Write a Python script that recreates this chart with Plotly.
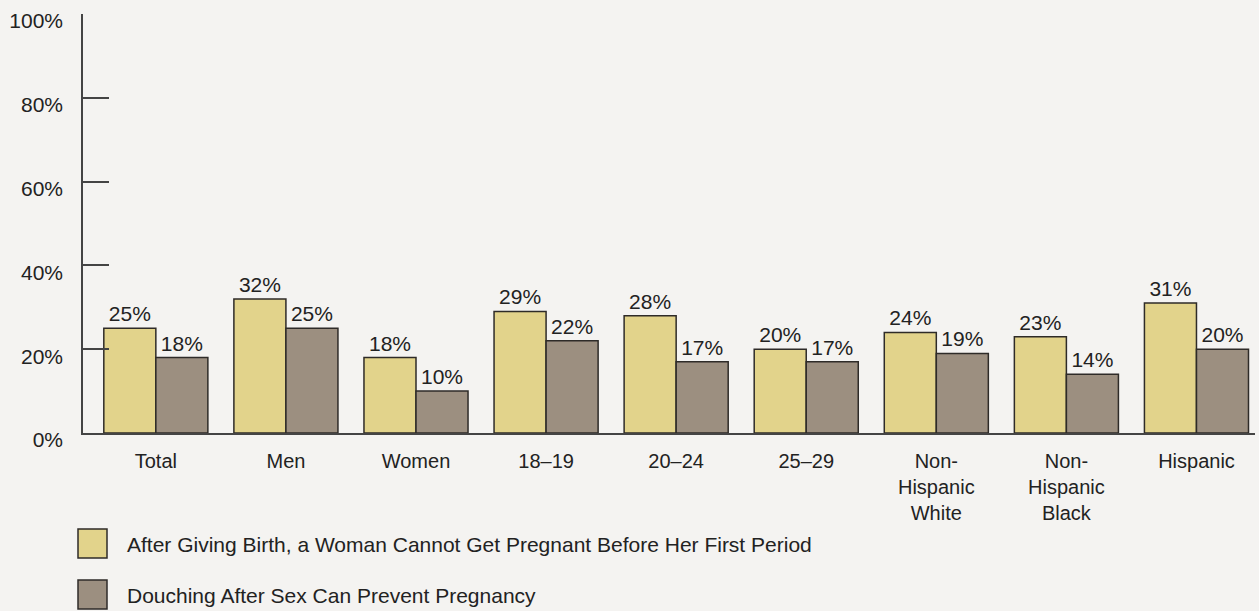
import plotly.graph_objects as go

categories = [
    "Total", "Men", "Women", "18–19", "20–24", "25–29",
    "Non-<br>Hispanic<br>White", "Non-<br>Hispanic<br>Black", "Hispanic",
]
series_names = [
    "After Giving Birth, a Woman Cannot Get Pregnant Before Her First Period",
    "Douching After Sex Can Prevent Pregnancy",
]
after_birth = [25, 32, 18, 29, 28, 20, 24, 23, 31]
douching = [18, 25, 10, 22, 17, 17, 19, 14, 20]
y_ticks = [0, 20, 40, 60, 80, 100]

BG = "#f4f3f1"
YELLOW = "#e2d38b"
GRAY = "#9c8f80"
EDGE = "#2e2b28"
TEXT = "#222222"
FONT = "Arial, Liberation Sans, Helvetica, sans-serif"
FS = 21

W, H = 1259, 611
M_L, M_R, M_T, M_B = 83, 4, 14, 178
PW, PH = W - M_L - M_R, H - M_T - M_B


def px_x(px):
    return (px - M_L) / PW


def px_y(py):
    return (H - M_B - py) / PH


fig = go.Figure()
for name, vals, color in [(series_names[0], after_birth, YELLOW), (series_names[1], douching, GRAY)]:
    fig.add_trace(go.Bar(
        x=categories, y=vals, name=name,
        marker=dict(color=color, line=dict(color=EDGE, width=1.5)),
        text=[f"{v}%" for v in vals], textposition="outside",
        textfont=dict(size=FS, color=TEXT, family=FONT),
        cliponaxis=False, showlegend=False,
    ))

# legend drawn as boxes + labels
legend_rows = [(529, YELLOW), (580, GRAY)]
for (top, color), name in zip(legend_rows, series_names):
    fig.add_shape(
        type="rect", xref="paper", yref="paper",
        x0=px_x(78), x1=px_x(107), y0=px_y(top), y1=px_y(top + 29),
        fillcolor=color, line=dict(color=EDGE, width=1.5),
    )
    fig.add_annotation(
        xref="paper", yref="paper", x=px_x(125), y=px_y(top + 15),
        text=name, showarrow=False, xanchor="left", yanchor="middle",
        font=dict(size=FS, color=TEXT, family=FONT),
    )

fig.update_layout(
    width=W, height=H,
    margin=dict(l=M_L, r=M_R, t=M_T, b=M_B, pad=0),
    paper_bgcolor=BG, plot_bgcolor=BG,
    barmode="group", bargap=0.2, bargroupgap=0,
    font=dict(family=FONT, size=FS, color=TEXT),
    uniformtext=dict(minsize=FS),
)
fig.update_xaxes(
    range=[-0.56, 8.45], showgrid=False, zeroline=False,
    showline=True, linecolor="#444", linewidth=1.5,
    ticks="", tickfont=dict(size=20, color=TEXT), ticklabelstandoff=9,
    fixedrange=True,
)
fig.update_yaxes(
    range=[0, 100], tickvals=y_ticks, ticktext=[f"{v}%" for v in y_ticks],
    showgrid=False, zeroline=False,
    showline=True, linecolor="#444", linewidth=1.5,
    ticks="inside", ticklen=26, tickwidth=1.5, tickcolor="#444",
    tickfont=dict(size=FS, color=TEXT), ticklabelstandoff=14, ticklabelshift=7,
    fixedrange=True,
)

fig.write_html(
    "out.html",
    config={"displayModeBar": False},
    post_script="document.body.style.margin='0';",
)
